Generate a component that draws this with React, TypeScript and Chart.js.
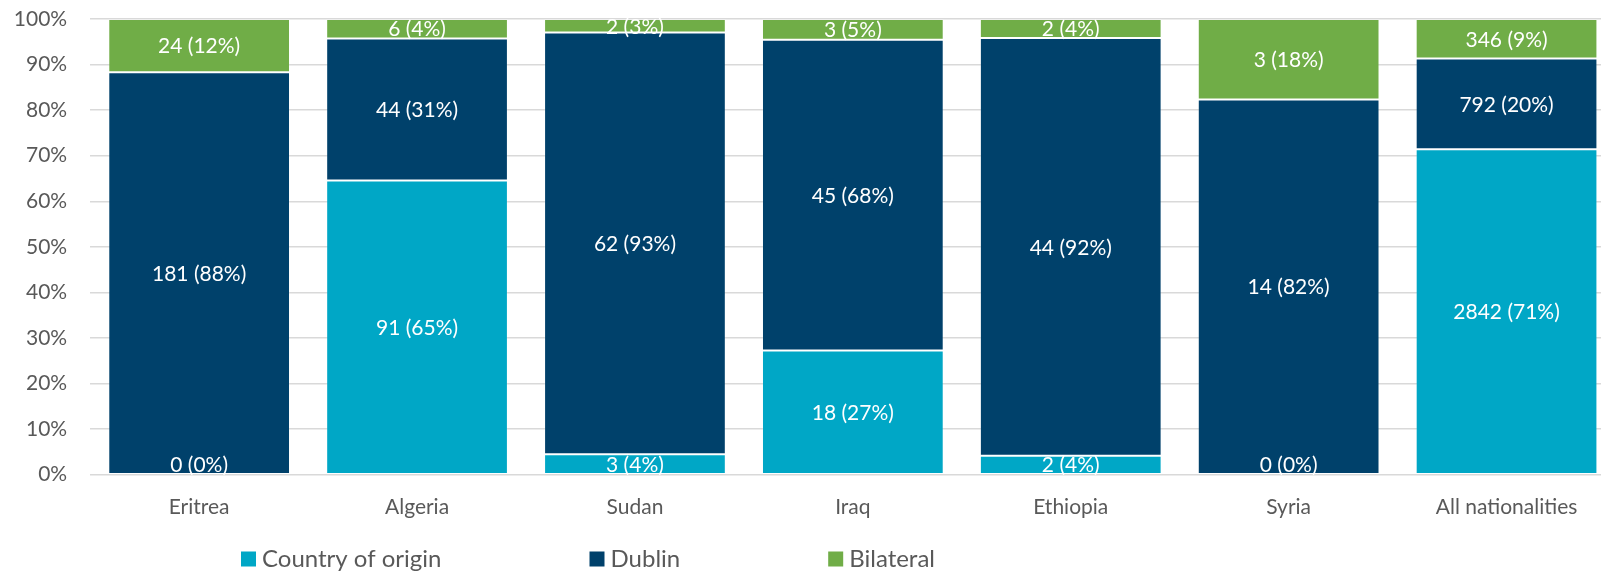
import React, { useEffect, useRef } from "react";
import { Chart, registerables } from "chart.js";

Chart.register(...registerables);

// ---- Data ----
const categories = ["Eritrea", "Algeria", "Sudan", "Iraq", "Ethiopia", "Syria", "All nationalities"];
const seriesNames = ["Country of origin", "Dublin", "Bilateral"];
const countryOfOrigin = [0, 91, 3, 18, 2, 0, 2842];
const dublin = [181, 44, 62, 45, 44, 14, 792];
const bilateral = [24, 6, 2, 3, 2, 3, 346];
const yTickStep = 10;

const seriesCounts = [countryOfOrigin, dublin, bilateral];
const seriesColors = ["#00A7C6", "#00416B", "#70AD47"];

const totals = categories.map((_, i) => seriesCounts.reduce((s, arr) => s + arr[i], 0));
const shares = seriesCounts.map((arr) => arr.map((v, i) => (v / totals[i]) * 100));

const FONT = "Lato, 'Open Sans', sans-serif";
const TEXT_GRAY = "#595959";

const CANVAS_W = 1620;
const CANVAS_H = 574;
const PLOT_TOP = 19;
const PLOT_BOTTOM = 474.7;

const labelPlugin = {
  id: "segLabels",
  afterDatasetsDraw(chart: any) {
    const ctx = chart.ctx;
    const area = chart.chartArea;
    ctx.save();
    ctx.font = `21px ${FONT}`;
    ctx.fillStyle = "#ffffff";
    ctx.textAlign = "center";
    ctx.textBaseline = "middle";
    chart.data.datasets.forEach((ds: any, di: number) => {
      const meta = chart.getDatasetMeta(di);
      meta.data.forEach((el: any, i: number) => {
        const p = el.getProps(["x", "y", "base"], true);
        let cy = (p.y + p.base) / 2;
        cy = Math.min(cy, area.bottom - 10);
        const count = seriesCounts[di][i];
        const pct = Math.round(shares[di][i]);
        ctx.fillText(`${count} (${pct}%)`, p.x, cy + 1);
      });
    });
    ctx.restore();
  },
};

const legendPlugin = {
  id: "bottomLegend",
  afterDraw(chart: any) {
    const ctx = chart.ctx;
    ctx.save();
    ctx.font = `24px ${FONT}`;
    ctx.textBaseline = "middle";
    ctx.textAlign = "left";
    let x = 241;
    const cy = 559;
    chart.data.datasets.forEach((ds: any) => {
      ctx.fillStyle = ds.backgroundColor;
      ctx.fillRect(x, cy - 7.5, 15, 15);
      ctx.fillStyle = TEXT_GRAY;
      ctx.fillText(ds.label, x + 21, cy);
      x += 21 + ctx.measureText(ds.label).width + 148;
    });
    ctx.restore();
  },
};

export default function App() {
  const ref = useRef<HTMLCanvasElement | null>(null);

  useEffect(() => {
    if (!ref.current) return;
    const chart = new Chart(ref.current, {
      type: "bar",
      data: {
        labels: categories,
        datasets: seriesNames.map((name, di) => ({
          label: name,
          data: shares[di],
          backgroundColor: seriesColors[di],
          borderColor: "rgba(255,255,255,0.15)",
          borderWidth: 1,
          borderSkipped: false,
          barPercentage: 0.834,
          categoryPercentage: 1,
        })),
      },
      options: {
        animation: false,
        responsive: false,
        devicePixelRatio: 1,
        layout: { padding: { top: PLOT_TOP, right: 4.5, bottom: 0, left: 0 } },
        plugins: {
          legend: { display: false },
          tooltip: { enabled: false },
        },
        scales: {
          x: {
            stacked: true,
            grid: { display: false, drawTicks: false },
            border: { display: false },
            ticks: {
              color: TEXT_GRAY,
              font: { family: FONT, size: 21 },
              padding: 20,
              maxRotation: 0,
              autoSkip: false,
            },
            afterFit(scale: any) {
              scale.height = CANVAS_H - PLOT_BOTTOM;
              scale.paddingLeft = 0;
              scale.paddingRight = 0;
            },
          },
          y: {
            stacked: true,
            min: 0,
            max: 100,
            grid: { color: "#D9D9D9", lineWidth: 1.5, drawTicks: false },
            border: { display: false },
            ticks: {
              stepSize: yTickStep,
              color: TEXT_GRAY,
              font: { family: FONT, size: 21 },
              padding: 23,
              callback: (v: any) => `${v}%`,
            },
            afterFit(scale: any) {
              scale.width = 90.2;
              scale.paddingTop = 0;
              scale.paddingBottom = 0;
            },
          },
        },
      },
      plugins: [labelPlugin, legendPlugin],
    });
    return () => chart.destroy();
  }, []);

  return (
    <div
      style={{
        position: "fixed",
        left: 0,
        top: 0,
        width: 1601,
        height: 574,
        overflow: "hidden",
        background: "#ffffff",
      }}
    >
      <canvas
        ref={ref}
        width={CANVAS_W}
        height={CANVAS_H}
        style={{ display: "block", width: CANVAS_W, height: CANVAS_H }}
      />
    </div>
  );
}
